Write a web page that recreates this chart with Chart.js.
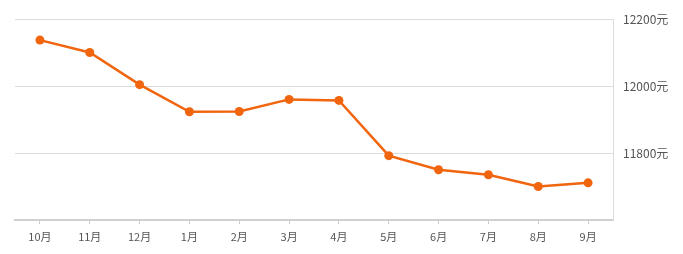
<!DOCTYPE html>
<html>
<head>
<meta charset="utf-8">
<script src="https://cdn.jsdelivr.net/npm/chart.js@4"></script>
<style>
  html, body { margin: 0; padding: 0; background: #fff; }
  #wrap { width: 683px; height: 254px; }
</style>
</head>
<body>
<div id="wrap"><canvas id="chart"></canvas></div>
<script>
const months = ['10月', '11月', '12月', '1月', '2月', '3月', '4月', '5月', '6月', '7月', '8月', '9月'];
const prices = [12137, 12100, 12004, 11923, 11924, 11960, 11957, 11792, 11750, 11735, 11700, 11711];
const yTicks = [11600, 11800, 12000, 12200];

const orange = '#f0650e';
const textColor = '#555';

const ctx = document.getElementById('chart').getContext('2d');
new Chart(ctx, {
  type: 'line',
  data: {
    labels: months,
    datasets: [
      {
        data: prices,
        borderColor: orange,
        backgroundColor: orange,
        borderWidth: 2.5,
        pointRadius: 4.5,
        pointBackgroundColor: orange,
        pointBorderWidth: 0,
        tension: 0,
      },
    ],
  },
  options: {
    responsive: true,
    maintainAspectRatio: false,
    animation: false,
    layout: { padding: { left: 15, top: 19, right: 0, bottom: 0 } },
    plugins: { legend: { display: false }, tooltip: { enabled: false } },
    scales: {
      x: {
        offset: true,
        grid: { offset: false, drawOnChartArea: false, drawTicks: true, tickLength: 4, color: '#ccc' },
        border: { color: '#d0d0d0', width: 2 },
        ticks: { color: textColor, font: { size: 11, family: 'Noto Sans CJK SC' }, padding: 6, maxRotation: 0 },
        afterFit: (scale) => { scale.height = 34; },
      },
      y: {
        position: 'right',
        min: yTicks[0],
        max: yTicks[yTicks.length - 1],
        afterBuildTicks: (scale) => { scale.ticks = yTicks.map(v => ({ value: v })); },
        grid: { color: '#dcdcdc', drawTicks: false },
        border: { color: '#dcdcdc', width: 1 },
        ticks: {
          color: textColor,
          padding: 10,
          font: { size: 12, family: 'Noto Sans CJK SC' },
          callback: (v) => (v === yTicks[0] ? '' : v + '元'),
        },
        afterFit: (scale) => { scale.width = 70; },
      },
    },
  },
});
</script>
</body>
</html>
